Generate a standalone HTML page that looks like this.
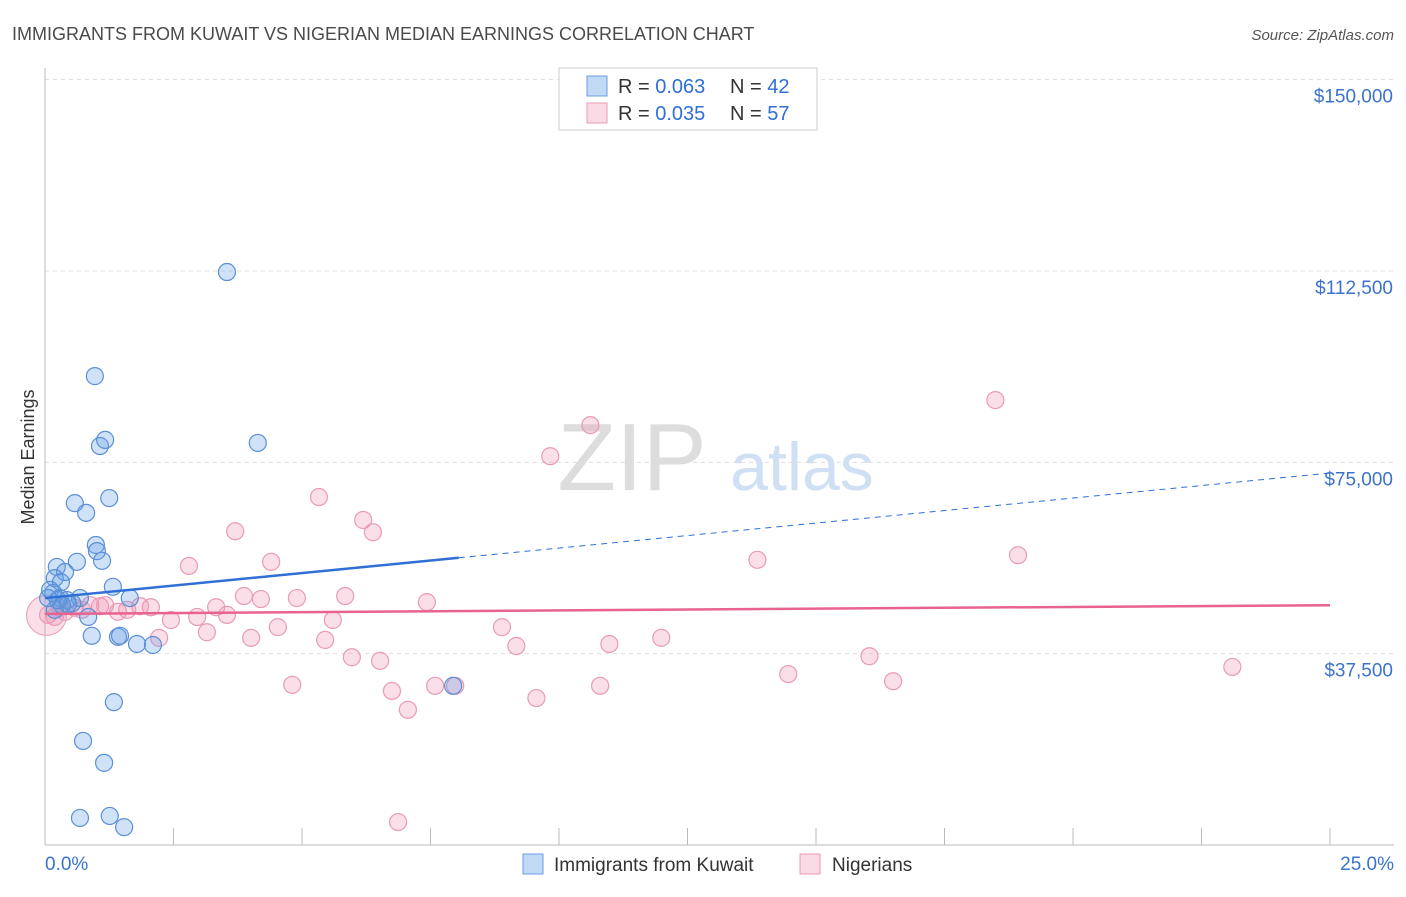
<!DOCTYPE html>
<html><head><meta charset="utf-8"><style>
body{margin:0;background:#fff;font-family:"Liberation Sans",sans-serif}
svg text{font-family:"Liberation Sans",sans-serif}
</style></head><body>
<svg id="chart" width="1406" height="892" xmlns="http://www.w3.org/2000/svg">
<text x="12" y="40" font-size="18" fill="#4a4a4a">IMMIGRANTS FROM KUWAIT VS NIGERIAN MEDIAN EARNINGS CORRELATION CHART</text>
<text x="1394" y="40" font-size="15" fill="#555" text-anchor="end" font-style="italic">Source: ZipAtlas.com</text>
<text transform="translate(34,457) rotate(-90)" font-size="18" fill="#333" text-anchor="middle">Median Earnings</text>
<g>
<text x="632" y="490" font-size="96" fill="#ddd" text-anchor="middle" font-family="Liberation Serif">ZIP</text>
<text x="802" y="490" font-size="68" fill="#cfe0f5" text-anchor="middle">atlas</text>
</g>
<g id="grid"></g><g id="axes"></g><g id="marks"></g>
<g>
<rect x="559" y="68" width="258" height="62" fill="#fff" stroke="#ccc"/>
<rect x="587" y="76" width="20" height="20" fill="rgba(100,160,230,0.4)" stroke="#6b9de0"/>
<rect x="587" y="103" width="20" height="20" fill="rgba(240,150,180,0.35)" stroke="#e99ab8"/>
<text x="618" y="93" font-size="20" fill="#333">R = <tspan fill="#2f6fd6">0.063</tspan></text>
<text x="730" y="93" font-size="20" fill="#333">N = <tspan fill="#2f6fd6">42</tspan></text>
<text x="618" y="120" font-size="20" fill="#333">R = <tspan fill="#2f6fd6">0.035</tspan></text>
<text x="730" y="120" font-size="20" fill="#333">N = <tspan fill="#2f6fd6">57</tspan></text>
</g>
<g>
<rect x="523" y="854" width="20" height="20" fill="rgba(100,160,230,0.4)" stroke="#6b9de0"/>
<text x="554" y="871" font-size="19" fill="#333">Immigrants from Kuwait</text>
<rect x="800" y="854" width="20" height="20" fill="rgba(240,150,180,0.35)" stroke="#e99ab8"/>
<text x="832" y="871" font-size="19" fill="#333">Nigerians</text>
</g>
</svg>
<script>
const yTicks=[37500,75000,112500,150000];
const yTickLabels=["$37,500","$75,000","$112,500","$150,000"];
const xTickLabels=["0.0%","25.0%"];
const blueX=[3.54,0.97,1.07,1.17,4.14,0.58,1.25,0.80,0.99,1.01,1.11,0.62,0.23,0.39,0.19,0.31,1.32,0.10,0.16,1.65,0.29,0.43,0.68,0.53,0.33,0.19,0.84,0.91,1.42,1.46,1.79,2.10,1.34,0.74,1.15,0.68,1.26,1.54,7.94,0.45,0.25,0.06];
const blueY=[112300,91900,78200,79400,78800,67000,68000,65100,58800,57600,55700,55500,54500,53500,52300,51500,50600,50000,49400,48400,48400,48000,48400,47400,47000,46100,44700,41000,40800,41000,39400,39200,28000,20400,16100,5300,5700,3500,31200,47200,48000,48400];
const pinkX=[10.61,18.49,9.83,5.33,6.19,3.70,6.38,18.93,13.86,2.80,4.40,5.84,3.87,4.20,4.90,7.43,3.33,2.06,1.17,1.60,0.88,2.45,2.96,3.54,5.60,4.53,3.15,2.22,4.01,5.45,8.89,11.99,10.98,9.17,5.97,6.52,16.04,23.10,14.46,16.50,4.81,6.75,7.59,7.98,10.80,9.56,7.06,6.87,0.06,0.19,0.39,0.58,1.07,1.85,0.29,0.72,1.42];
const pinkY=[82300,87200,76200,68200,63700,61500,61300,56800,55900,54700,55500,48800,48800,48200,48400,47600,46600,46600,47000,46100,47000,44100,44700,45100,44100,42700,41700,40600,40600,40200,42700,40600,39400,39000,36800,36100,37000,34900,33500,32100,31400,30200,31200,31200,31200,28800,26500,4500,45100,44700,45700,46500,46800,46800,46500,46100,45700];
const blueTrend=[48400,72900];
const pinkTrend=[45300,47000];
const NS="http://www.w3.org/2000/svg";
const X=v=>45+v/25*1285, Y=v=>845-v/37500*191.33;
function mk(t,a,p){const e=document.createElementNS(NS,t);for(const k in a)e.setAttribute(k,a[k]);document.getElementById(p).appendChild(e);return e;}
yTicks.forEach((t,i)=>{
 const l=mk('line',{x1:45,x2:1394,y1:Y(t),y2:Y(t),stroke:'#ddd','stroke-dasharray':'4,4'},'grid');
 
 
 const tx=mk('text',{x:1393,y:Y(t)+23,'font-size':19,fill:'#3b73cc','text-anchor':'end'},'axes');tx.textContent=yTickLabels[i];
 
 
});
const ax=mk('line',{x1:45,x2:45,y1:68,y2:845,stroke:'#bbb'},'axes');


const bx=mk('line',{x1:45,x2:1394,y1:845,y2:845,stroke:'#bbb'},'axes');


for(let i=0;i<=10;i++){const t=mk('line',{x1:X(i*2.5),x2:X(i*2.5),y1:828,y2:845,stroke:'#bbb'},'axes');
 
 }
[[0,45,'start'],[25,1394,'end']].forEach((d,i)=>{const t=mk('text',{x:d[1],y:870,'font-size':19,fill:'#3b73cc','text-anchor':d[2]},'axes');t.textContent=xTickLabels[i];
 
 });
const big=mk('circle',{cx:X(0.03),cy:Y(45000),r:20,fill:'rgba(240,150,180,0.3)',stroke:'#e99ab8'},'marks');


pinkX.forEach((x,i)=>{const c=mk('circle',{cx:X(x),cy:Y(pinkY[i]),r:8.5,fill:'rgba(240,150,180,0.3)',stroke:'#e99ab8','stroke-width':1.2},'marks');
 
 });
blueX.forEach((x,i)=>{const c=mk('circle',{cx:X(x),cy:Y(blueY[i]),r:8.5,fill:'rgba(100,160,230,0.3)',stroke:'#5b8fd6','stroke-width':1.2},'marks');
 
 });
const bAt=x=>blueTrend[0]+(blueTrend[1]-blueTrend[0])*x/25;
const l1=mk('line',{x1:X(0),y1:Y(bAt(0)),x2:X(8.05),y2:Y(bAt(8.05)),stroke:'#2f6fd6','stroke-width':2.5},'marks');


const l2=mk('line',{x1:X(8.05),y1:Y(bAt(8.05)),x2:X(25),y2:Y(bAt(25)),stroke:'#2f6fd6','stroke-width':1,'stroke-dasharray':'6,5'},'marks');


const l3=mk('line',{x1:X(0),y1:Y(pinkTrend[0]),x2:X(25),y2:Y(pinkTrend[1]),stroke:'#e8638f','stroke-width':2.5},'marks');


</script>
</body></html>
